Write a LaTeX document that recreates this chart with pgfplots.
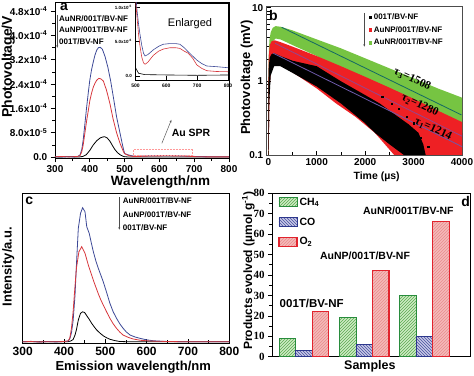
\documentclass[border=0pt]{standalone}
\usepackage{pgfplots}
\pgfplotsset{compat=1.18}
\usepackage{fontspec}
\setmainfont{Liberation Sans}
\newfontfamily\serifb{Liberation Serif}
\usetikzlibrary{patterns,arrows.meta}
\newcommand{\fs}[1]{\fontsize{#1}{#1}\selectfont}
\definecolor{aBlue}{RGB}{60,72,150}
\definecolor{aRed}{RGB}{215,55,60}
\definecolor{gB}{RGB}{118,196,66}
\definecolor{rB}{RGB}{238,32,36}
\definecolor{tealF}{RGB}{20,105,100}
\definecolor{purF}{RGB}{150,70,140}
\definecolor{bluF}{RGB}{110,90,170}
\definecolor{CHd}{RGB}{40,140,60}
\definecolor{CHf}{RGB}{205,235,195}
\definecolor{CHp}{RGB}{90,170,80}
\definecolor{COd}{RGB}{45,55,140}
\definecolor{COf}{RGB}{200,200,230}
\definecolor{COp}{RGB}{70,80,160}
\definecolor{O2d}{RGB}{225,35,45}
\definecolor{O2f}{RGB}{245,185,185}
\definecolor{O2p}{RGB}{232,140,140}
\pgfplotsset{/pgf/number format/assume math mode=true, /pgf/number format/1000 sep={}}
\begin{document}
\begin{tikzpicture}
\useasboundingbox (0pt,0pt) rectangle (474pt,375pt);

% ---------------- panel a ----------------
\begin{axis}[at={(55pt,217pt)}, anchor=south west, width=174pt, height=156pt, scale only axis,
  xmin=300, xmax=800, ymin=-0.03, ymax=5.1,
  xtick={300,400,500,600,700,800}, minor x tick num=1,
  ytick={0,0.8,1.6,2.4,3.2,4.0,4.8}, minor y tick num=1,
  yticklabels={0.0,8.0x10\textsuperscript{-5},1.6x10\textsuperscript{-4},2.4x10\textsuperscript{-4},3.2x10\textsuperscript{-4},4.0x10\textsuperscript{-4},4.8x10\textsuperscript{-4}},
  tick align=outside, xtick pos=bottom, ytick pos=left,
  axis line style={line width=0.8pt}, tick style={line width=0.6pt, black},
  tick label style={font=\bfseries\fs{10}},
  xlabel={Wavelength/nm}, ylabel={Photovoltage/V},
  x label style={at={(axis description cs:0.606,-0.152)}, anchor=center, font=\bfseries\fs{13.5}},
  y label style={at={(axis description cs:-0.268,0.585)}, anchor=center, font=\bfseries\fs{14}},
]
\addplot[black, line width=0.8pt] coordinates {(300,0.005)(340,0.01)(370,0.005)(380,0.02)(390,0.08)(400,0.22)(410,0.4)(420,0.54)(430,0.63)(437,0.66)(443,0.67)(450,0.63)(458,0.52)(465,0.38)(472,0.25)(480,0.14)(488,0.07)(495,0.03)(500,0.012)(510,0.004)(530,0.002)(600,0.0015)(700,0.001)(800,0.0015)};
\addplot[aBlue, line width=0.8pt] coordinates {(300,0.01)(320,0.005)(340,0.01)(355,0.005)(365,0.02)(372,0.07)(377,0.25)(381,0.56)(386,1.1)(391,1.65)(396,2.15)(400,2.53)(405,2.87)(410,3.13)(415,3.36)(420,3.52)(425,3.6)(430,3.61)(436,3.55)(444,3.30)(452,2.95)(460,2.50)(468,1.95)(477,1.32)(487,0.78)(493,0.45)(497,0.25)(500,0.12)(505,0.095)(510,0.075)(514,0.062)(520,0.045)(526,0.033)(531,0.029)(540,0.031)(558,0.038)(575,0.043)(590,0.046)(612,0.047)(630,0.047)(644,0.046)(658,0.041)(671,0.035)(685,0.029)(699,0.023)(715,0.018)(731,0.0145)(763,0.0135)(800,0.012)};
\addplot[aRed, line width=0.8pt] coordinates {(300,0.01)(320,0.02)(340,0.005)(355,0.015)(365,0.02)(372,0.05)(377,0.18)(381,0.4)(386,0.8)(391,1.2)(396,1.55)(400,1.85)(405,2.1)(410,2.3)(415,2.43)(420,2.53)(426,2.59)(432,2.57)(439,2.5)(448,2.2)(458,1.75)(467,1.25)(477,0.8)(487,0.45)(493,0.28)(497,0.17)(500,0.11)(505,0.085)(510,0.06)(514,0.045)(520,0.028)(526,0.019)(531,0.017)(540,0.02)(558,0.030)(575,0.036)(590,0.039)(612,0.041)(630,0.041)(644,0.040)(658,0.036)(671,0.033)(685,0.026)(699,0.016)(715,0.011)(731,0.0077)(763,0.0065)(800,0.0062)};
\draw[pink!80!red, densely dotted, line width=0.5pt] (axis cs:525,0.07) rectangle (axis cs:695,0.26);
\draw[gray!70!black, line width=0.5pt, -{Latex[length=3pt,width=2pt]}] (axis cs:607,0.45) -- (axis cs:635,1.24);
\end{axis}

% ---------------- inset of panel a ----------------
\begin{axis}[at={(135.5pt,295pt)}, anchor=south west, width=92.5pt, height=77pt, scale only axis,
  axis background/.style={fill=white},
  xmin=500, xmax=800, ymin=-0.0058, ymax=0.1058,
  xtick={500,600,700,800}, ytick={0,0.05,0.1},
  yticklabels={0.0,5.0x10\textsuperscript{-6},1.0x10\textsuperscript{-5}},
  xtick pos=bottom, ytick pos=left, tick align=inside,
  axis line style={line width=0.6pt}, tick style={line width=0.4pt, black},
  xticklabel style={font=\bfseries\fs{5}}, yticklabel style={font=\bfseries\fs{4.5}},
]
\addplot[black, line width=0.6pt] coordinates {(500,0.012)(510,0.004)(530,0.002)(600,0.0015)(700,0.001)(800,0.0015)};
\addplot[aBlue, line width=0.6pt] coordinates {(497,0.25)(500,0.12)(505,0.095)(510,0.075)(514,0.062)(520,0.045)(526,0.033)(531,0.029)(540,0.031)(558,0.038)(575,0.043)(590,0.046)(612,0.047)(630,0.047)(644,0.046)(658,0.041)(671,0.035)(685,0.029)(699,0.023)(715,0.018)(731,0.0145)(763,0.0135)(800,0.012)};
\addplot[aRed, line width=0.6pt] coordinates {(497,0.17)(500,0.11)(505,0.085)(510,0.06)(514,0.045)(520,0.028)(526,0.019)(531,0.017)(540,0.02)(558,0.030)(575,0.036)(590,0.039)(612,0.041)(630,0.041)(644,0.040)(658,0.036)(671,0.033)(685,0.026)(699,0.016)(715,0.011)(731,0.0077)(763,0.0065)(800,0.0062)};
\end{axis}

% ---------------- panel b ----------------
\begin{axis}[at={(266.7pt,220pt)}, anchor=south west, width=195.3pt, height=149pt, scale only axis,
  ymode=log, xmin=-33, xmax=4000, ymin=0.1, ymax=10.5,
  xtick={0,1000,2000,3000,4000}, xticklabels={0,1000,2000,3000,4000}, minor xtick={500,1500,2500,3500},
  ytick={0.1,1,10}, yticklabels={0.1,1,10},
  tick align=inside, xtick pos=bottom, ytick pos=left,
  axis line style={line width=0.9pt, gray!60!black}, tick style={line width=0.6pt, black},
  tick label style={font=\bfseries\fs{10}},
  xlabel={Time (µs)}, ylabel={Photovoltage (mV)},
  x label style={at={(axis description cs:0.563,-0.146)}, anchor=center, font=\bfseries\fs{10.5}},
  y label style={at={(axis description cs:-0.102,0.52)}, anchor=center, font=\bfseries\fs{13}},
  legend style={draw=none, fill=none, font=\bfseries\fs{8}, at={(axis description cs:0.522,0.965)}, anchor=north west, row sep=1.5pt, inner sep=0pt},
  legend cell align=left,
]
\addlegendimage{legend image code/.code={\fill[black] (-1.3pt,-1.3pt) rectangle (1.3pt,1.3pt);}}
\addlegendentry{001T/BV-NF}
\addlegendimage{legend image code/.code={\fill[rB] (-1.3pt,-1.3pt) rectangle (1.3pt,1.3pt);}}
\addlegendentry{AuNP/001T/BV-NF}
\addlegendimage{legend image code/.code={\fill[gB] (-1.3pt,-1.3pt) rectangle (1.3pt,1.3pt);}}
\addlegendentry{AuNR/001T/BV-NF}
\addplot[fill=gB, draw=none, forget plot] coordinates {(0,0.1)(3,1.0)(10,2.5)(25,3.7)(50,4.6)(90,5.3)(150,5.6)(250,5.5)(500,4.9)(1000,3.7)(1500,2.8)(2000,2.05)(2500,1.5)(3000,1.1)(3500,0.8)(4000,0.6)
 (4000,0.2)(3500,0.3)(3000,0.45)(2500,0.7)(2000,1.0)(1500,1.5)(1000,2.2)(500,3.1)(250,3.7)(150,3.8)(80,3.4)(40,2.6)(15,1.2)(5,0.1)} --cycle;
\addplot[fill=rB, draw=none, forget plot] coordinates {(0,0.1)(3,1.0)(10,2.2)(30,3.1)(70,3.5)(130,3.6)(250,3.4)(500,2.95)(1000,2.2)(1500,1.6)(2000,1.15)(2500,0.82)(3000,0.58)(3500,0.4)(4000,0.28)
 (4000,0.1)(2600,0.1)(2200,0.2)(1800,0.33)(1400,0.5)(1000,0.8)(600,1.2)(300,1.6)(150,1.7)(60,1.5)(25,0.8)(8,0.1)} --cycle;
\addplot[fill=black, draw=none, forget plot] coordinates {(0,0.1)(3,0.9)(10,1.6)(30,2.1)(70,2.35)(120,2.4)(250,2.2)(500,1.9)(1000,1.6)(1500,1.0)(2000,0.65)(2300,0.5)(2600,0.36)(2900,0.26)(3100,0.2)(3200,0.14)(3250,0.1)
 (2800,0.1)(2500,0.14)(2200,0.2)(2000,0.27)(1500,0.5)(1000,0.85)(500,1.3)(250,1.6)(120,1.6)(50,1.2)(20,0.5)(8,0.1)} --cycle;
\addplot[only marks, mark=square*, mark size=0.6pt, black, forget plot] coordinates {(2350,0.62)(2550,0.5)(2700,0.42)(2850,0.33)(3000,0.27)(3050,0.2)(3150,0.17)(2950,0.13)(3100,0.12)(3300,0.13)};
\addplot[tealF, line width=0.8pt, forget plot] coordinates {(276,5.4)(3988,0.35)};
\addplot[purF, line width=0.8pt, forget plot] coordinates {(138,3.28)(4000,0.18)};
\addplot[bluF, line width=0.8pt, forget plot] coordinates {(103,2.4)(4000,0.13)};
\end{axis}

% ---------------- panel c ----------------
\begin{axis}[at={(22.7pt,31.7pt)}, anchor=south west, width=206.6pt, height=150pt, scale only axis,
  xmin=300, xmax=800, ymin=0, ymax=100, ytick=\empty,
  xtick={300,400,500,600,700,800}, minor x tick num=1,
  tick align=inside, xtick pos=bottom,
  axis line style={line width=0.8pt}, tick style={line width=0.6pt, black},
  tick label style={font=\bfseries\fs{12}},
  xlabel={Emission wavelength/nm}, ylabel={Intensity/a.u.},
  x label style={at={(axis description cs:0.535,-0.156)}, anchor=center, font=\bfseries\fs{13}},
  y label style={at={(axis description cs:-0.070,0.511)}, anchor=center, font=\bfseries\fs{13}},
]
\addplot[black, line width=0.8pt] coordinates {(300,1.0)(340,1.1)(380,1.0)(410,1.1)(416,1.5)(422,2.5)(426.6,5.5)(430,9)(434.6,15.5)(440,20)(445,21)(450,20.5)(455,18.4)(461,16)(467,13.3)(473,11)(479,8.9)(487,6.8)(495,5)(503,3.7)(511,2.7)(523,1.8)(535,1.2)(560,1.0)(600,1.0)(700,1.0)(800,1.0)};
\addplot[aBlue, line width=0.8pt] coordinates {(300,1.0)(320,1.3)(340,0.8)(360,1.2)(380,0.9)(400,1.2)(410,1.5)(414,3)(418,7)(422,15)(426.6,32)(430,52)(434.6,76.7)(440,86.7)(445,90.4)(450.8,87.7)(455,77.7)(461,73.3)(466,67)(471,61)(477,55)(483,50)(489,45.5)(495,41)(503,34)(511,26.7)(519,21)(527,16.7)(535,13)(543,10)(551,7.5)(560,5.5)(572,4.2)(584,3.3)(600,2.3)(616,1.7)(640,1.3)(680,1.1)(720,1.0)(760,1.1)(800,1.0)};
\addplot[aRed, line width=0.8pt] coordinates {(300,1.0)(320,1.2)(340,0.9)(360,1.1)(380,1.0)(400,1.2)(410,1.6)(414,3.5)(418,10)(422,21)(426,36)(430,50)(436,61)(442.8,64.4)(450.8,60)(459,52)(465,47)(471,42)(477,37.5)(483,33)(489,29)(495,25.5)(503,21)(511,16.7)(519,13)(527,10)(535,7.5)(543,5.5)(555,4)(567,2.9)(585,2)(610,1.5)(650,1.2)(700,1.0)(750,1.1)(800,1.0)};
\end{axis}

% ---------------- panel d ----------------
\begin{axis}[at={(272.3pt,18.3pt)}, anchor=south west, width=198pt, height=163.4pt, scale only axis,
  xmin=0.474, xmax=3.76, ymin=0, ymax=80,
  xtick=\empty, ytick={0,10,...,80}, minor y tick num=1,
  tick align=outside, ytick pos=left,
  axis line style={line width=0.9pt}, tick style={line width=0.6pt, black},
  yticklabel style={font=\serifb\bfseries\fs{11}},
  xlabel={Samples}, ylabel={Products evolved (µmol g\textsuperscript{-1})},
  x label style={at={(axis description cs:0.493,-0.061)}, anchor=center, font=\bfseries\fs{12.5}},
  y label style={at={(axis description cs:-0.121,0.526)}, anchor=center, font=\bfseries\fs{12}},
  mylegend/.style={legend image code/.code={\draw[##1] (0pt,-4.5pt) rectangle (18pt,4.5pt);}},
  legend style={draw=none, fill=none, font=\bfseries\fs{10.5}, at={(axis description cs:0.03,0.985)}, anchor=north west, row sep=7pt, inner sep=0pt},
  legend cell align=left,
]
\addplot[ybar, bar width=16.5pt, bar shift=-16.5pt, draw=CHd, line width=0.9pt, fill=CHf, postaction={pattern=north east lines, pattern color=CHp}, mylegend] coordinates {(1,9)(2,19)(3,30)};
\addlegendentry{CH\textsubscript{4}}
\addplot[ybar, bar width=16.5pt, bar shift=0pt, draw=COd, line width=0.9pt, fill=COf, postaction={pattern=north west lines, pattern color=COp}, mylegend] coordinates {(1,3)(2,6)(3,10)};
\addlegendentry{CO}
\addplot[ybar, bar width=16.5pt, bar shift=16.5pt, draw=O2d, line width=1.1pt, fill=O2f, postaction={pattern=north east lines, pattern color=O2p}, mylegend] coordinates {(1,22)(2,42)(3,66)};
\addlegendentry{O\textsubscript{2}}
\end{axis}

% ---------------- annotations ----------------
\node[font=\bfseries\fs{14}] at (64pt,367.7pt) {a};
\node[font=\bfseries\fs{14}] at (273.3pt,360pt) {b};
\node[font=\bfseries\fs{14}] at (29.3pt,174.3pt) {c};
\node[font=\bfseries\fs{14}] at (465.7pt,174pt) {d};
\node[font=\fs{11}] at (190pt,351.7pt) {Enlarged};
\node[font=\bfseries\fs{10.5}] at (191pt,242pt) {Au SPR};
\begin{scope}[font=\bfseries\fs{8}]
\node[anchor=west, inner sep=0pt] at (59pt,356pt) {AuNR/001T/BV-NF};
\node[anchor=west, inner sep=0pt] at (59pt,345pt) {AuNP/001T/BV-NF};
\node[anchor=west, inner sep=0pt] at (59pt,333.3pt) {001T/BV-NF};
\node[anchor=west, inner sep=0pt] at (122.7pt,174pt) {AuNR/001T/BV-NF};
\node[anchor=west, inner sep=0pt] at (122.7pt,160.7pt) {AuNP/001T/BV-NF};
\node[anchor=west, inner sep=0pt] at (122.7pt,147.7pt) {001T/BV-NF};
\end{scope}
\draw[gray!60!black, line width=0.4pt, -{Latex[length=2.5pt,width=2pt]}] (57.3pt,360pt) -- (57.3pt,327pt);
\draw[gray!60!black, line width=0.5pt, -{Latex[length=2.5pt,width=2pt]}] (119.3pt,177.5pt) -- (119.3pt,145pt);
\draw[gray!60!black, line width=0.5pt, -{Latex[length=2.5pt,width=2pt]}] (364.3pt,362pt) -- (364.3pt,328pt);
\begin{scope}[font=\serifb\bfseries\fs{11.5}]
\node[rotate=-25, inner sep=0pt] at (412.3pt,295.7pt) {τ\textsubscript{3}=1508};
\node[rotate=-25, inner sep=0pt] at (420pt,270pt) {τ\textsubscript{2}=1280};
\node[rotate=-25, inner sep=0pt] at (433.3pt,245.7pt) {τ\textsubscript{1}=1214};
\end{scope}
\node[font=\bfseries\fs{10.5}] at (408.3pt,164pt) {AuNR/001T/BV-NF};
\node[font=\bfseries\fs{10.5}] at (365pt,119pt) {AuNP/001T/BV-NF};
\node[font=\bfseries\fs{11.5}] at (311.7pt,71.7pt) {001T/BV-NF};
\end{tikzpicture}
\end{document}
